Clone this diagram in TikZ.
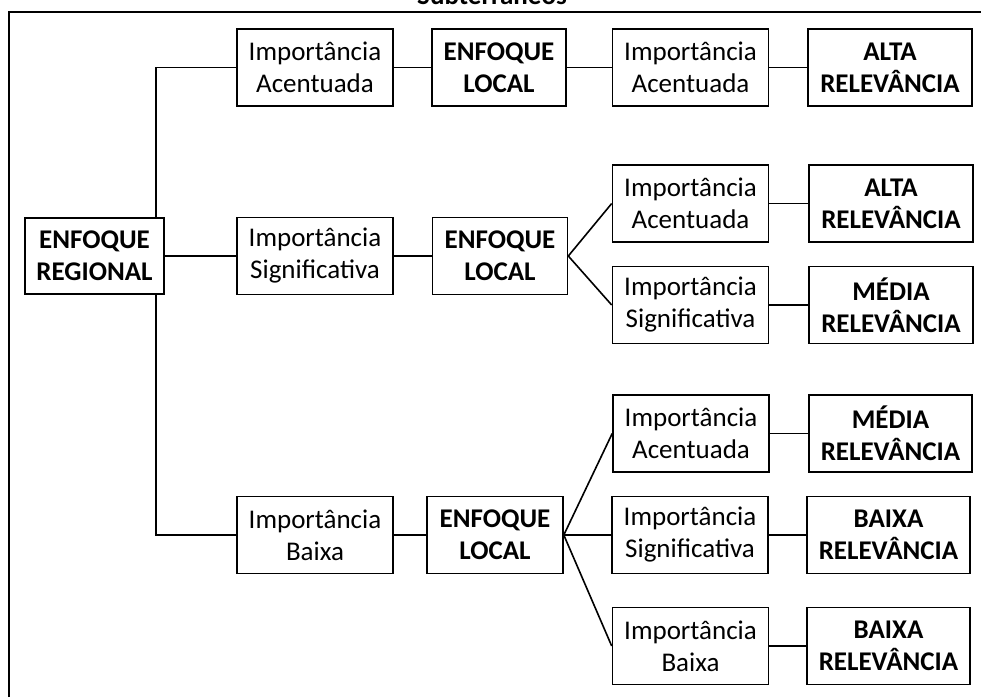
\documentclass[tikz,border=0pt]{standalone}
\usepackage{fontspec}
\setmainfont{Carlito}
\usetikzlibrary{backgrounds}
\begin{document}
\begin{tikzpicture}[x=1pt,y=-1pt,
  box/.style={draw, line width=1.6pt, fill=white, align=center,
    inner sep=0pt, minimum width=156pt, minimum height=77pt,
    font=\fontsize{27}{32}\selectfont},
  key/.style={box, font=\fontsize{27}{32}\selectfont\bfseries},
  link/.style={line width=1.6pt}]
\useasboundingbox (0,0) rectangle (981,697);
% title above the frame
\node[anchor=base, font=\fontsize{27}{32}\selectfont\bfseries] (title) at (492,4.5) {Subterrâneos};
% frame
\draw[line width=2.6pt] (9,697) -- (9,12) -- (981,12);
% regional level
\node[key, minimum width=139pt, minimum height=76pt] (reg) at (94.5,256) {ENFOQUE\\REGIONAL};
% first branch
\node[box] (ia1) at (315,67.5) {Importância\\Acentuada};
\node[key, minimum width=134pt] (el1) at (499,67.5) {ENFOQUE\\LOCAL};
\node[box] (ia1b) at (690.5,67.5) {Importância\\Acentuada};
\node[key, minimum width=164pt] (r1) at (890,67.5) {ALTA\\RELEVÂNCIA};
% second branch
\node[box] (is2) at (315,256) {Importância\\Significativa};
\node[key, minimum width=135pt] (el2) at (500,256) {ENFOQUE\\LOCAL};
\node[box] (ia2) at (690.5,203.5) {Importância\\Acentuada};
\node[key, minimum width=164pt] (r2a) at (891,203.5) {ALTA\\RELEVÂNCIA};
\node[box] (is2b) at (690.5,305) {Importância\\Significativa};
\node[key, minimum width=164pt] (r2b) at (891,305) {MÉDIA\\RELEVÂNCIA};
% third branch
\node[box] (ib3) at (315,535) {Importância\\Baixa};
\node[key, minimum width=136pt] (el3) at (495,535) {ENFOQUE\\LOCAL};
\node[box] (ia3) at (691,433.5) {Importância\\Acentuada};
\node[key, minimum width=163pt] (r3a) at (890.5,433.5) {MÉDIA\\RELEVÂNCIA};
\node[box] (is3) at (690,535) {Importância\\Significativa};
\node[key, minimum width=163pt] (r3b) at (888.5,535) {BAIXA\\RELEVÂNCIA};
\node[box] (ib3b) at (690.5,646) {Importância\\Baixa};
\node[key, minimum width=163pt] (r3c) at (888.5,646) {BAIXA\\RELEVÂNCIA};
\coordinate (trunk) at (156,256);
\begin{pgfonlayer}{background}
  % trunk from the regional box to the three branches
  \draw[link] (ia1.west) -| (trunk) |- (ib3.west);
  \draw[link] (reg.east) -- (is2.west);
  % first branch
  \draw[link] (ia1.east) -- (el1.west);
  \draw[link] (el1.east) -- (ia1b.west);
  \draw[link] (ia1b.east) -- (r1.west);
  % second branch
  \draw[link] (is2.east) -- (el2.west);
  \draw[link] (el2.east) -- (ia2.west);
  \draw[link] (el2.east) -- (is2b.west);
  \draw[link] (ia2.east) -- (r2a.west);
  \draw[link] (is2b.east) -- (r2b.west);
  % third branch
  \draw[link] (ib3.east) -- (el3.west);
  \draw[link] (el3.east) -- (ia3.west);
  \draw[link] (el3.east) -- (is3.west);
  \draw[link] (el3.east) -- (ib3b.west);
  \draw[link] (ia3.east) -- (r3a.west);
  \draw[link] (is3.east) -- (r3b.west);
  \draw[link] (ib3b.east) -- (r3c.west);
\end{pgfonlayer}
\end{tikzpicture}
\end{document}
